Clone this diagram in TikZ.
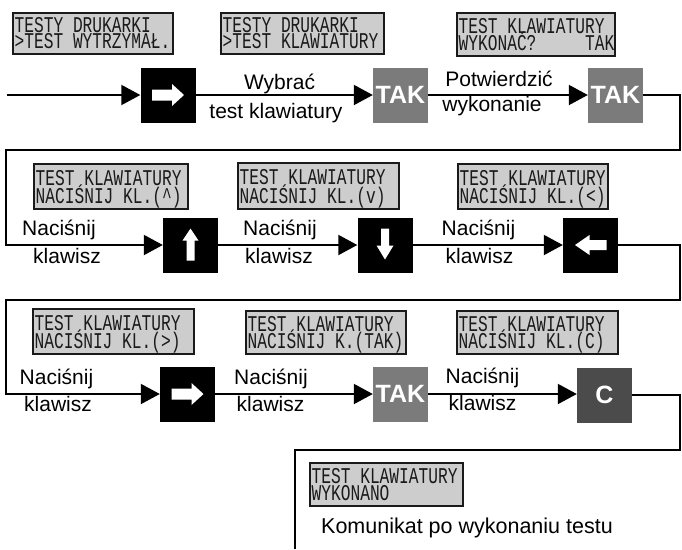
\documentclass[tikz,border=0pt]{standalone}
\usepackage{fontspec}
\setmainfont{Liberation Sans}
\newfontfamily\lcdfont[FakeStretch=0.72]{Liberation Mono}
\usetikzlibrary{arrows.meta}
\definecolor{lcdfill}{HTML}{CDCDCD}
\definecolor{lcdline}{HTML}{1A1A1A}
\definecolor{takgray}{HTML}{7B7B7B}
\definecolor{cgray}{HTML}{4B4B4B}
\tikzset{
  rarrow/.pic={\fill[white] (-16,-5.5) -- (4,-5.5) -- (4,-11) -- (16,0) -- (4,11) -- (4,5.5) -- (-16,5.5) -- cycle;},
  larrow/.pic={\fill[white] (16,-5) -- (-1,-5) -- (-1,-10) -- (-15.5,0) -- (-1,10) -- (-1,5) -- (16,5) -- cycle;},
  uarrow/.pic={\fill[white] (-4,15.5) -- (-4,-4.5) -- (-8,-4.5) -- (0,-16.5) -- (8,-4.5) -- (4,-4.5) -- (4,15.5) -- cycle;},
  darrow/.pic={\fill[white] (-4,-16.5) -- (-4,0.5) -- (-8.5,0.5) -- (0,14.5) -- (8.5,0.5) -- (4,0.5) -- (4,-16.5) -- cycle;},
}
% name, x, y, width, height, line 1, line 2
\newcommand\lcdpanel[7]{%
  \node[lcdbox, minimum width=#4pt, minimum height=#5pt] (#1) at (#2,#3) {};
  \node[lcdtxt] (#1a) at ([shift={(2.5,{#5/2-0.5})}]#1.north west) {#6};
  \node[lcdtxt] (#1b) at ([shift={(2.5,{#5-5})}]#1.north west) {#7};
}
\begin{document}
\begin{tikzpicture}[x=1pt,y=-1pt,
  conn/.style={line width=2pt},
  arr/.style={conn,-{Triangle[length=19pt,width=20pt]}},
  keybox/.style={minimum size=55pt, inner sep=0pt, fill=black},
  takbox/.style={keybox, fill=takgray, text=white, font=\fontsize{25}{25}\selectfont\bfseries},
  cbox/.style={keybox, fill=cgray, text=white, font=\fontsize{25}{25}\selectfont\bfseries},
  lbl/.style={anchor=base, inner sep=0pt, font=\fontsize{21}{24}\selectfont},
  lcdbox/.style={draw=lcdline, line width=2pt, fill=lcdfill, anchor=north west, inner sep=0pt},
  lcdtxt/.style={anchor=base west, inner sep=0pt, text=lcdline,
    font=\lcdfont\fontsize{22.5}{17}\selectfont},
]
\useasboundingbox (0,0) rectangle (682,549);

% LCD displays
\lcdpanel{d1}{12}{12}{160}{41}{TESTY DRUKARKI}{>TEST WYTRZYMAŁ.}
\lcdpanel{d2}{220}{12}{163}{41}{TESTY DRUKARKI}{>TEST KLAWIATURY}
\lcdpanel{d3}{456}{12}{158}{43}{TEST KLAWIATURY}{WYKONAĆ?\ \ \ \ \ TAK}
\lcdpanel{d4}{33}{163}{154}{45}{TEST KLAWIATURY}{NACIŚNIJ KL.(\textasciicircum)}
\lcdpanel{d5}{237}{162}{161}{46}{TEST KLAWIATURY}{NACIŚNIJ KL.(v)}
\lcdpanel{d6}{457}{163}{150}{45}{TEST KLAWIATURY}{NACIŚNIJ KL.(<)}
\lcdpanel{d7}{32}{308}{161}{45}{TEST KLAWIATURY}{NACIŚNIJ KL.(>)}
\lcdpanel{d8}{245}{310}{160}{43}{TEST KLAWIATURY}{NACIŚNIJ K.(TAK)}
\lcdpanel{d9}{456}{310}{161}{43}{TEST KLAWIATURY}{NACIŚNIJ KL.(C)}
\lcdpanel{d10}{309}{462}{153}{43}{TEST KLAWIATURY}{WYKONANO}

% keys
\node[keybox] (k1) at (168,95) {};
\pic at (k1.center) {rarrow};
\node[takbox] (t1) at (400.5,95) {TAK};
\node[takbox] (t2) at (615.5,95) {TAK};
\node[keybox] (k2) at (190.5,245) {};
\pic at (k2.center) {uarrow};
\node[keybox] (k3) at (385,245) {};
\pic at (k3.center) {darrow};
\node[keybox] (k4) at (590.5,245) {};
\pic at (k4.center) {larrow};
\node[keybox] (k5) at (187.5,394) {};
\pic at (k5.center) {rarrow};
\node[takbox] (t3) at (400.5,394) {TAK};
\node[cbox] (c1) at (604.5,395) {C};

% connectors
\coordinate (s0) at (7,95);
\coordinate (a1) at (680,150);
\coordinate (a2) at (6,150);
\coordinate (b1) at (680,300);
\coordinate (b2) at (6,300);
\coordinate (e1) at (680,450);
\coordinate (e2) at (295,450);
\coordinate (e3) at (295,549);
\draw[arr] (s0) -- (k1.west);
\draw[arr] (k1.east) -- (t1.west);
\draw[arr] (t1.east) -- (t2.west);
\draw[arr] (t2.east) -| (a1) -- (a2) |- (k2.west);
\draw[arr] (k2.east) -- (k3.west);
\draw[arr] (k3.east) -- (k4.west);
\draw[arr] (k4.east) -| (b1) -- (b2) |- (k5.west);
\draw[arr] (k5.east) -- (t3.west);
\draw[arr] (t3.east) -- (t3.east -| c1.west);
\draw[conn] (c1.east) -| (e1) -- (e2) -- (e3);

% labels
\node[lbl] (l1a) at (279.5,89) {Wybrać};
\node[lbl] (l1b) at (276,118) {test klawiatury};
\node[lbl] (l2a) at (499,86) {Potwierdzić};
\node[lbl] (l2b) at (492,111) {wykonanie};
\node[lbl] (l3a) at (59,235) {Naciśnij};
\node[lbl] (l3b) at (67,263) {klawisz};
\node[lbl] (l4a) at (280,235) {Naciśnij};
\node[lbl] (l4b) at (279,263) {klawisz};
\node[lbl] (l5a) at (478.5,235) {Naciśnij};
\node[lbl] (l5b) at (479.5,263) {klawisz};
\node[lbl] (l6a) at (56.5,384) {Naciśnij};
\node[lbl] (l6b) at (58,411) {klawisz};
\node[lbl] (l7a) at (271,384) {Naciśnij};
\node[lbl] (l7b) at (270.5,411) {klawisz};
\node[lbl] (l8a) at (482.5,383) {Naciśnij};
\node[lbl] (l8b) at (482.5,410) {klawisz};
\node[lbl, anchor=base west, font=\fontsize{21.5}{24}\selectfont] (kom) at (321,533) {Komunikat po wykonaniu testu};
\end{tikzpicture}
\end{document}
